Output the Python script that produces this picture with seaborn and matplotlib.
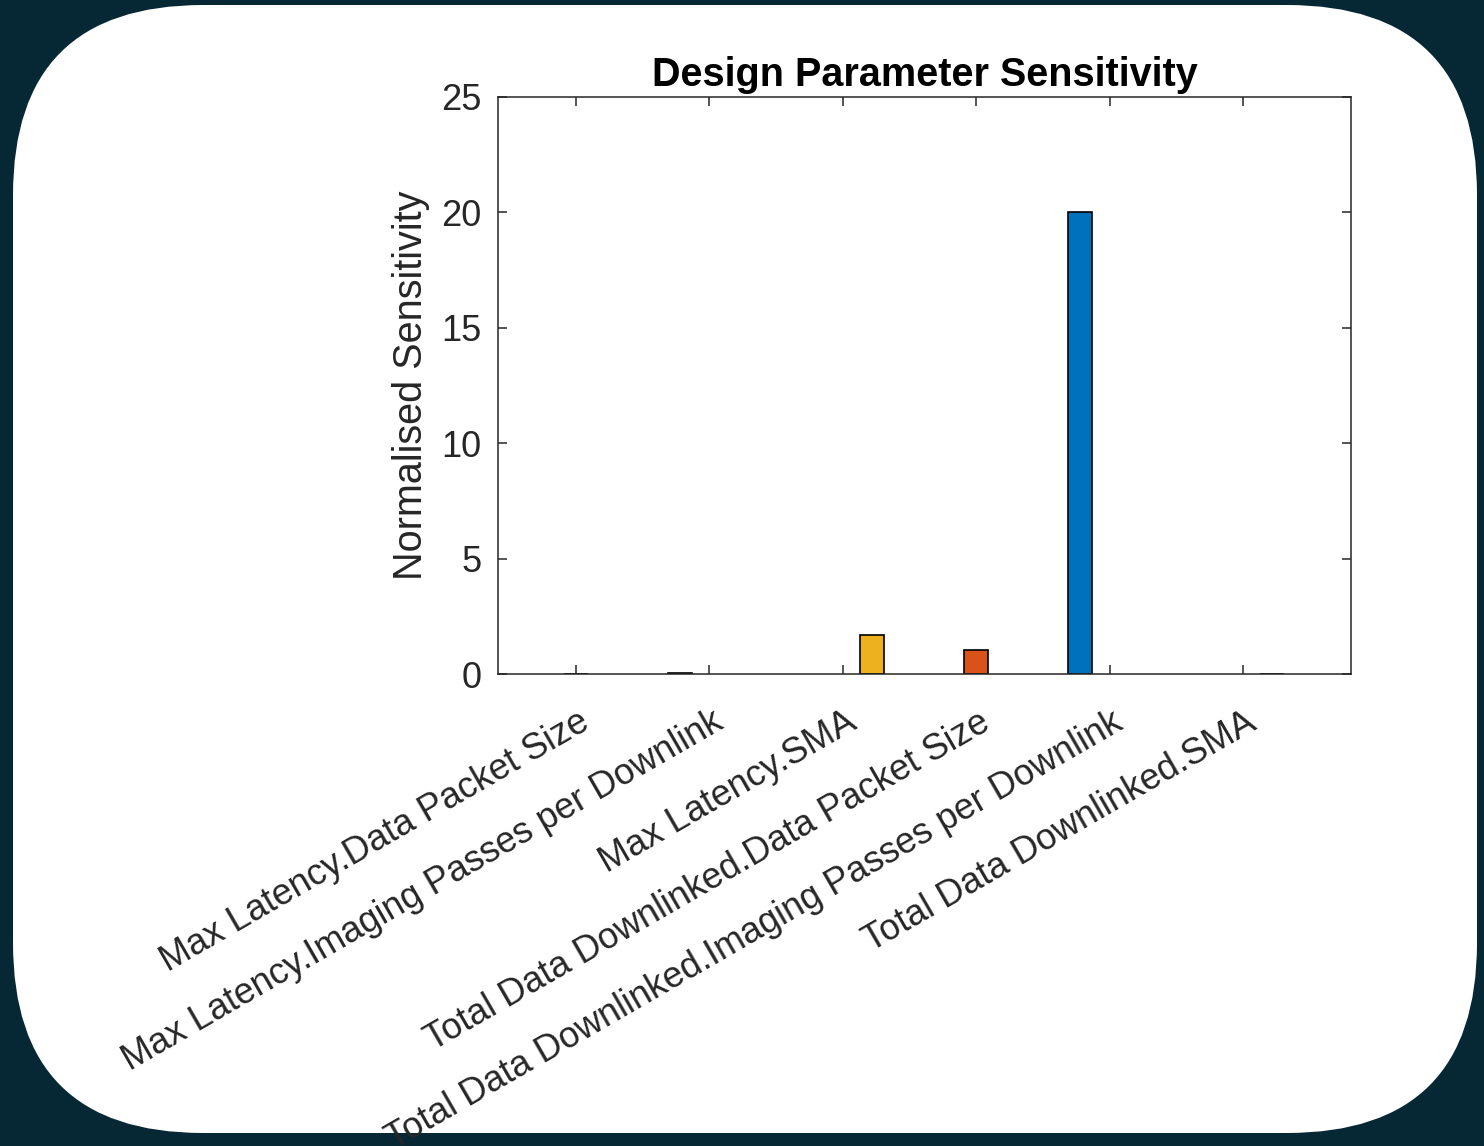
import pandas as pd
import seaborn as sns
import matplotlib.pyplot as plt
from matplotlib.patches import FancyBboxPatch
from matplotlib.transforms import IdentityTransform, ScaledTranslation

# -----------------------------
# Data
# -----------------------------
parameters = [
    "Max Latency.Data Packet Size",
    "Max Latency.Imaging Passes per Downlink",
    "Max Latency.SMA",
    "Total Data Downlinked.Data Packet Size",
    "Total Data Downlinked.Imaging Passes per Downlink",
    "Total Data Downlinked.SMA",
]
series = ["S2", "S1", "S3", "S2", "S1", "S3"]
sensitivity = [0.02, 0.04, 1.68, 1.02, 20.0, 0.01]

series_order = ["S1", "S2", "S3"]
series_colors = ["#0072BD", "#D95319", "#EDB120"]

df = pd.DataFrame({"Parameter": parameters, "Series": series, "Sensitivity": sensitivity})

# -----------------------------
# Figure with rounded white card on dark background
# -----------------------------
sns.set_theme(style="ticks")
plt.rcParams["font.family"] = ["Liberation Sans", "DejaVu Sans"]

W, H = 1484, 1146
fig = plt.figure(figsize=(W / 100, H / 100), dpi=100)
fig.patch.set_facecolor("#062835")

card = FancyBboxPatch((13, H - 1133), 1464, 1128,
                      boxstyle="round,pad=0,rounding_size=190",
                      transform=IdentityTransform(), facecolor="white",
                      edgecolor="none", zorder=-1)
fig.add_artist(card)

ax = fig.add_axes([498 / W, 1 - 674 / H, (1351 - 498) / W, (674 - 97) / H])

sns.barplot(data=df, x="Parameter", y="Sensitivity", hue="Series",
            order=parameters, hue_order=series_order, palette=series_colors,
            saturation=1, dodge=True, width=0.66, gap=0.18,
            edgecolor="black", linewidth=1.2, legend=False, ax=ax)

ax.set_xlim(-0.585, 5.81)
ax.set_ylim(0, 25)
ax.set_yticks([0, 5, 10, 15, 20, 25])

ax.set_xlabel("")
ax.set_ylabel("Normalised Sensitivity", fontsize=28.5, color="#262626", labelpad=8)
ax.set_title("Design Parameter Sensitivity", fontsize=28.5, fontweight="bold",
             color="black", pad=8)

for side in ["left", "right", "top", "bottom"]:
    ax.spines[side].set_visible(True)
    ax.spines[side].set_color("#262626")
    ax.spines[side].set_linewidth(1.1)

ax.tick_params(direction="in", top=True, right=True, length=6.5, width=1.1,
               colors="#262626", labelsize=26)
ax.tick_params(axis="y", pad=12)
ax.tick_params(axis="x", pad=22)

plt.setp(ax.get_xticklabels(), rotation=30, ha="right", va="top",
         rotation_mode="anchor")
shift = ScaledTranslation(2 / 100, 0, fig.dpi_scale_trans)
for lbl in ax.get_xticklabels():
    lbl.set_transform(lbl.get_transform() + shift)
    lbl.set_clip_path(card)

fig.savefig("out.png", dpi=100, facecolor=fig.get_facecolor())
